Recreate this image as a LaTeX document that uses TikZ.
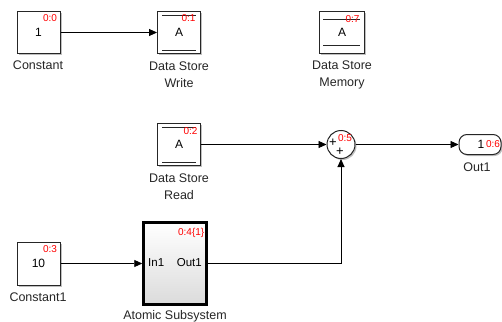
\documentclass[tikz,border=0pt]{standalone}
\usepackage{fontspec}
\setmainfont{Liberation Sans}
\usetikzlibrary{arrows.meta,shadows}
\begin{document}
\begin{tikzpicture}[x=1pt,y=-1pt,
  blk/.style={draw=black!85, line width=1pt, fill=white, inner sep=0pt,
    drop shadow={shadow xshift=1.5pt,shadow yshift=-1.5pt,fill=black!50,opacity=0.5},
    font=\fontsize{12}{14}\selectfont},
  lbl/.style={font=\fontsize{12.5}{17}\selectfont, text=black!85, align=center, inner sep=0pt},
  idx/.style={font=\fontsize{10}{10}\selectfont, text=red, inner sep=0.3pt},
  wire/.style={line width=0.9pt, black, -{Triangle[length=8pt,width=7pt]}},
  dsline/.style={line width=0.9pt, black!85}]
\useasboundingbox (0,0) rectangle (502,321);

% Blocks
\node[blk, minimum width=43pt, minimum height=41pt] (c) at (38.5,32.5) {1};
\node[blk, minimum width=43pt, minimum height=41pt] (dsw) at (179,32.5) {A};
\node[blk, minimum width=45pt, minimum height=41pt] (dsm) at (342,32.5) {A};
\node[blk, minimum width=43pt, minimum height=42pt] (dsr) at (179,144.5) {A};
\node[blk, circle, minimum size=28pt] (sum) at (341,144.5) {};
\node[blk, rounded corners=8pt, minimum width=42pt, minimum height=20pt] (out) at (480,144.5) {};
\node[blk, minimum width=43pt, minimum height=43pt] (c1) at (38.5,263.5) {10};
\node[draw=black, line width=2.5pt, inner sep=0pt, minimum width=63pt, minimum height=82pt,
  top color=white, bottom color=black!14,
  drop shadow={shadow xshift=1.5pt,shadow yshift=-1.5pt,fill=black!50,opacity=0.5}] (as) at (175,263.5) {};

% Data store lines
\draw[dsline] ([xshift=5pt,yshift=-3.5pt]dsw.north west) -- ([xshift=-5pt,yshift=-3.5pt]dsw.north east);
\draw[dsline] ([xshift=5pt,yshift=3.5pt]dsw.south west) -- ([xshift=-5pt,yshift=3.5pt]dsw.south east);
\draw[dsline] ([xshift=4pt,yshift=-8pt]dsm.north west) -- ([xshift=-5pt,yshift=-8pt]dsm.north east);
\draw[dsline] ([xshift=4pt,yshift=8pt]dsm.south west) -- ([xshift=-5pt,yshift=8pt]dsm.south east);
\draw[dsline] ([xshift=5pt,yshift=-4.5pt]dsr.north west) -- ([xshift=-5pt,yshift=-4.5pt]dsr.north east);
\draw[dsline] ([xshift=5pt,yshift=4pt]dsr.south west) -- ([xshift=-5pt,yshift=4pt]dsr.south east);

% Inner texts
\node[font=\fontsize{13}{14}\selectfont, inner sep=0pt] (splus1) at (333,142.5) {+};
\node[font=\fontsize{13}{14}\selectfont, inner sep=0pt] (splus2) at (340,151.5) {+};
\node[font=\fontsize{12}{14}\selectfont, inner sep=0pt] (outnum) at (481,144.5) {1};
\node[font=\fontsize{11.5}{14}\selectfont, inner sep=0pt, anchor=west] (in1) at (148,263) {In1};
\node[font=\fontsize{11.5}{14}\selectfont, inner sep=0pt, anchor=east] (out1p) at (202,263) {Out1};

% Index labels
\node[idx, anchor=north east] (i0) at ([xshift=-3pt,yshift=-2.5pt]c.north east) {0:0};
\node[idx, anchor=north east] (i1) at ([xshift=-5pt,yshift=-2.5pt]dsw.north east) {0:1};
\node[idx, anchor=north east] (i7) at ([xshift=-5pt,yshift=-4pt]dsm.north east) {0:7};
\node[idx, anchor=north east] (i2) at ([xshift=-3pt,yshift=-4pt]dsr.north east) {0:2};
\node[idx, anchor=north east] (i3) at ([xshift=-3pt,yshift=-4pt]c1.north east) {0:3};
\node[idx, anchor=north east] (i4) at ([xshift=-3pt,yshift=-6pt]as.north east) {0:4\{1\}};
\node[idx] (i5) at (345,138.5) {0:5};
\node[idx] (i6) at (493,144.5) {0:6};

% Labels
\node[lbl] (lc) at (38,65) {Constant};
\node[lbl] (ldsw) at (179,74.5) {Data Store\\Write};
\node[lbl] (ldsm) at (342,74.5) {Data Store\\Memory};
\node[lbl] (ldsr) at (179,187) {Data Store\\Read};
\node[lbl] (lout) at (477,167) {Out1};
\node[lbl] (lc1) at (38,297) {Constant1};
\node[lbl] (las) at (175,316) {Atomic Subsystem};

% Wires
\draw[wire] (c.east) -- (dsw.west);
\draw[wire] (dsr.east) -- (sum.west);
\draw[wire] (sum.east) -- (out.west);
\draw[wire] (c1.east) -- (as.west);
\draw[wire] (as.east) -| (sum.south);
\end{tikzpicture}
\end{document}
